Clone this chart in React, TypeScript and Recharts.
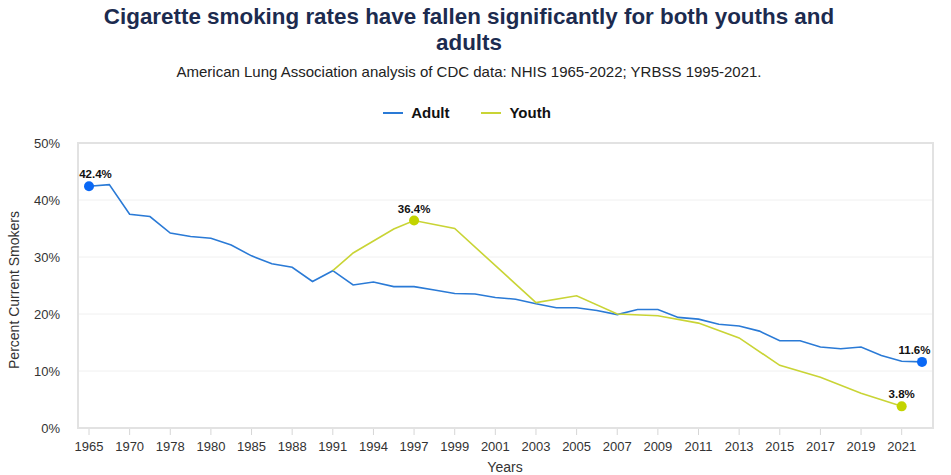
import React from 'react'
import { LineChart, Line, XAxis, YAxis, CartesianGrid, Label } from 'recharts'

const years = [
  '1965', '1966', '1970', '1974', '1978', '1979', '1980', '1983', '1985', '1987',
  '1988', '1990', '1991', '1992', '1994', '1995', '1997', '1998', '1999', '2000',
  '2001', '2002', '2003', '2004', '2005', '2006', '2007', '2008', '2009', '2010',
  '2011', '2012', '2013', '2014', '2015', '2016', '2017', '2018', '2019', '2020',
  '2021', '2022',
]

const adult = [
  42.4, 42.7, 37.5, 37.1, 34.2, 33.6, 33.3, 32.1, 30.2, 28.8,
  28.2, 25.7, 27.6, 25.1, 25.6, 24.8, 24.8, 24.2, 23.6, 23.5,
  22.9, 22.6, 21.8, 21.1, 21.1, 20.6, 19.9, 20.8, 20.8, 19.4,
  19.1, 18.2, 17.9, 17.0, 15.3, 15.3, 14.2, 13.9, 14.2, 12.7,
  11.7, 11.6,
]

const youth = [
  null, null, null, null, null, null, null, null, null, null,
  null, null, 27.6, 30.7, null, 34.9, 36.4, null, 35.0, null,
  null, null, 22.0, null, 23.2, null, 20.0, null, 19.7, null,
  18.4, null, 15.8, null, 11.0, null, 8.9, null, 6.1, null,
  3.8, null,
]

const adultMarked = ['1965', '2022']
const youthMarked = ['1997', '2021']

const data = years.map((year, i) => ({ year, Adult: adult[i], Youth: youth[i] }))

const FONT = "'Liberation Sans', Arial, sans-serif"
const PLOT_LEFT = 78
const PLOT_RIGHT = 933

const series = [
  { key: 'Adult', line: '#2a7ad6', dot: '#0a68f5', marked: adultMarked },
  { key: 'Youth', line: '#c9d435', dot: '#c3d400', marked: youthMarked },
]

function makeDot(color: string, marked: string[]) {
  return (props: any) => {
    const { cx, cy, payload, value, index } = props
    if (cx == null || cy == null || !marked.includes(payload.year)) {
      return <g key={'d' + index} />
    }
    const text = `${Array.isArray(value) ? value[1] : value}%`
    const half = (text.length * 6.6) / 2
    let tx = cx
    if (tx - half < PLOT_LEFT + 1) tx = PLOT_LEFT + 1 + half
    if (tx + half > PLOT_RIGHT - 2) tx = PLOT_RIGHT - 2 - half
    return (
      <g key={'d' + index}>
        <circle cx={cx} cy={cy} r={5} fill={color} />
        <text
          x={tx}
          y={cy - 8}
          textAnchor="middle"
          fontSize={11.5}
          fontWeight="bold"
          fill="#111"
          fontFamily={FONT}
        >
          {text}
        </text>
      </g>
    )
  }
}

export default function App() {
  return (
    <div
      style={{
        position: 'absolute',
        left: 0,
        top: 0,
        width: 951,
        height: 475,
        background: '#fff',
        fontFamily: FONT,
        overflow: 'hidden',
      }}
    >
      <div
        style={{
          position: 'absolute',
          left: 69,
          top: 4,
          width: 800,
          textAlign: 'center',
          fontSize: 22.4,
          fontWeight: 'bold',
          lineHeight: '26px',
          color: '#1c2b4f',
        }}
      >
        Cigarette smoking rates have fallen significantly for both youths and adults
      </div>
      <div
        style={{
          position: 'absolute',
          left: 0,
          top: 63,
          width: 938,
          textAlign: 'center',
          fontSize: 15,
          color: '#222',
        }}
      >
        American Lung Association analysis of CDC data: NHIS 1965-2022; YRBSS 1995-2021.
      </div>
      <div
        style={{
          position: 'absolute',
          left: 0,
          top: 104,
          width: 934,
          display: 'flex',
          justifyContent: 'center',
          alignItems: 'center',
          gap: 32,
        }}
      >
        {series.map((s) => (
          <div key={s.key} style={{ display: 'flex', alignItems: 'center' }}>
            <div style={{ width: 20, height: 2, background: s.line, marginRight: 8 }} />
            <span style={{ fontSize: 15, fontWeight: 'bold', color: '#111' }}>{s.key}</span>
          </div>
        ))}
      </div>
      <div style={{ position: 'absolute', left: 0, top: 0 }}>
        <LineChart
          width={951}
          height={475}
          data={data}
          margin={{ top: 143, right: 18, bottom: 17, left: 18 }}
        >
          <CartesianGrid vertical={false} stroke="#f0f0f0" />
          <XAxis
            dataKey="year"
            interval={1}
            height={30}
            padding={{ left: 11, right: 11 }}
            axisLine={false}
            tickSize={7}
            tickMargin={7}
            tickLine={{ stroke: '#d6d6d6' }}
            tick={{ fontSize: 13, fill: '#333', fontFamily: FONT }}
          >
            <Label
              content={() => (
                <text x={505} y={472} textAnchor="middle" fontSize={14} fill="#333" fontFamily={FONT}>
                  Years
                </text>
              )}
            />
          </XAxis>
          <YAxis
            domain={[0, 50]}
            ticks={[0, 10, 20, 30, 40, 50]}
            width={60}
            axisLine={false}
            tickLine={false}
            tickMargin={12}
            tickFormatter={(v: number) => `${v}%`}
            tick={{ fontSize: 13, fill: '#333', fontFamily: FONT }}
          >
            <Label
              content={() => (
                <text
                  x={14}
                  y={290}
                  transform="rotate(-90 14 290)"
                  textAnchor="middle"
                  dominantBaseline="central"
                  fontSize={14}
                  fill="#333"
                  fontFamily={FONT}
                >
                  Percent Current Smokers
                </text>
              )}
            />
          </YAxis>
          {series.map((s) => (
            <Line
              key={s.key}
              dataKey={s.key}
              type="linear"
              stroke={s.line}
              strokeWidth={1.6}
              connectNulls
              dot={makeDot(s.dot, s.marked)}
              activeDot={false}
              isAnimationActive={false}
            />
          ))}
        </LineChart>
      </div>
      <div
        style={{
          position: 'absolute',
          left: 77,
          top: 142,
          width: 857,
          height: 287,
          boxSizing: 'border-box',
          border: '2px solid #e2e2e2',
          pointerEvents: 'none',
        }}
      />
    </div>
  )
}
